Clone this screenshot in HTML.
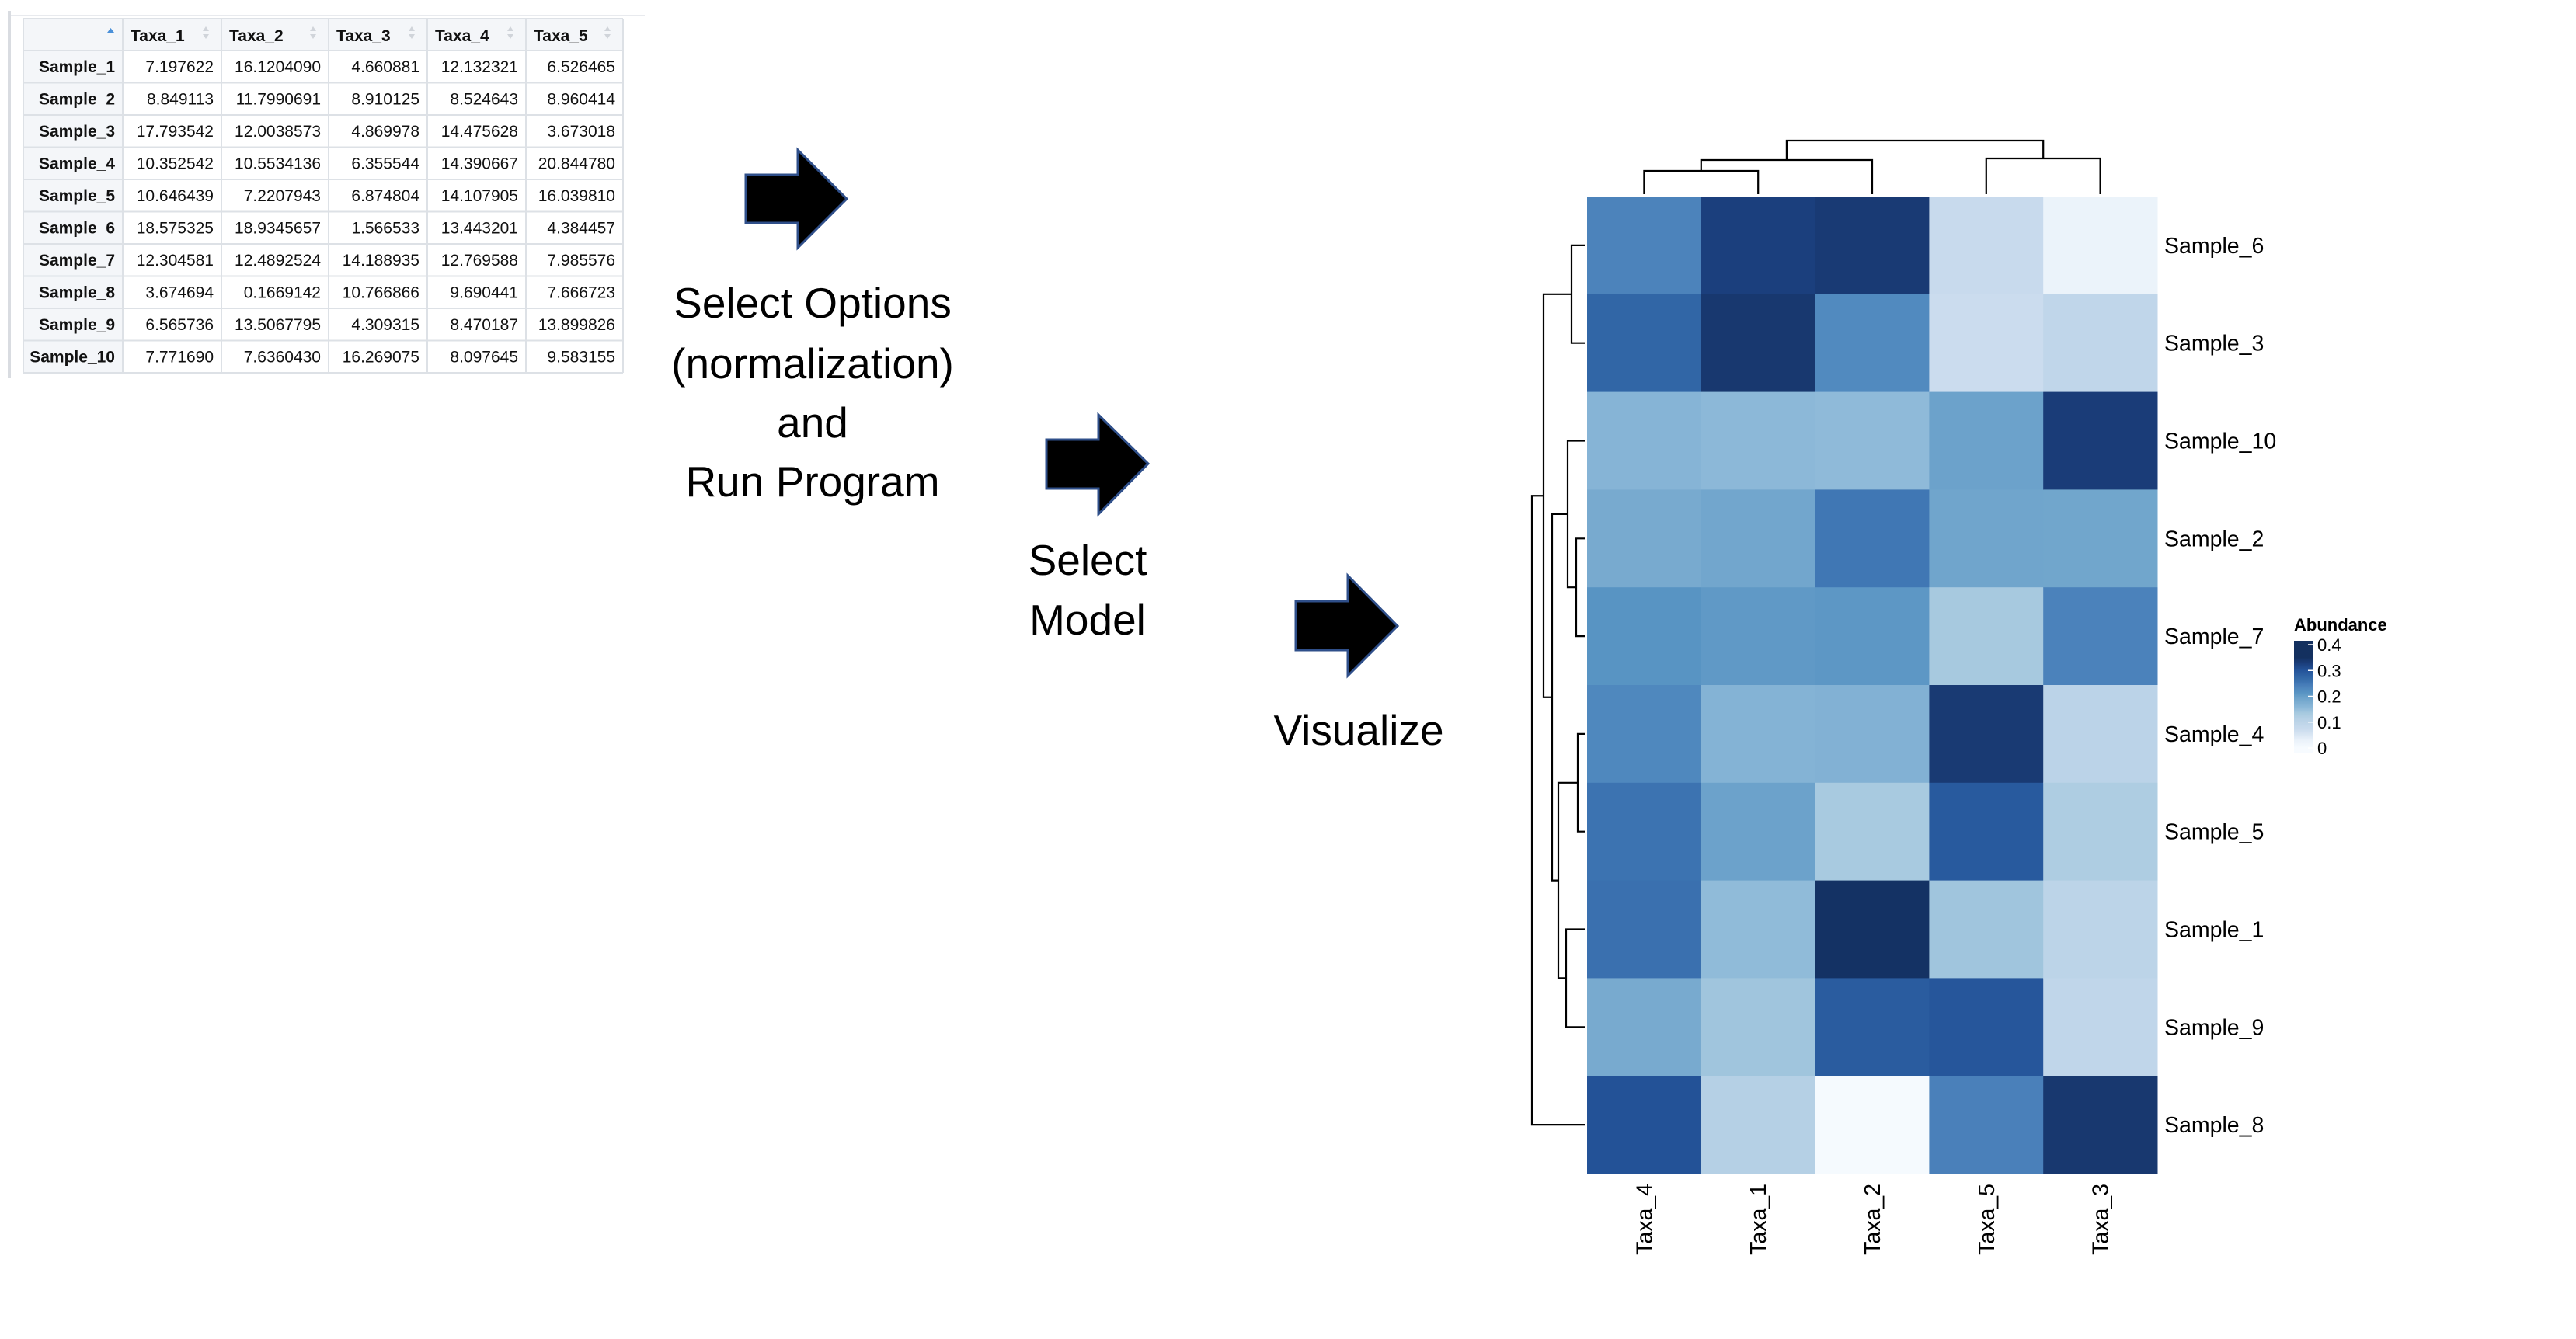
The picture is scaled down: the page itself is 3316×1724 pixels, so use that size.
<!DOCTYPE html>
<html><head><meta charset="utf-8"><style>
html,body{margin:0;padding:0;background:#fff;}
#root{position:relative;width:3316px;height:1724px;overflow:hidden;font-family:"Liberation Sans",sans-serif;}
svg{position:absolute;left:0;top:0;}
</style></head><body>
<div id="root">
<svg id="main" width="3316" height="1724" viewBox="0 0 3316 1724">
  <g id="table"></g>
  <g><polygon points="960,225 1027,225 1027,193 1090,256 1027,319 1027,287 960,287" fill="#000" stroke="#2f4f8a" stroke-width="3"/></g>
  <g><polygon points="1347,566 1414,566 1414,534 1478,597 1414,662 1414,629 1347,629" fill="#000" stroke="#2f4f8a" stroke-width="3"/></g>
  <g><polygon points="1668,774 1735,774 1735,741 1799,806 1735,870 1735,837 1668,837" fill="#000" stroke="#2f4f8a" stroke-width="3"/></g>
  <g font-size="55" fill="#000" text-anchor="middle">
    <text x="1046" y="409">Select Options</text>
    <text x="1046" y="487">(normalization)</text>
    <text x="1046" y="563">and</text>
    <text x="1046" y="639">Run Program</text>
  </g>
  <g font-size="55" fill="#000" text-anchor="middle">
    <text x="1400" y="740">Select</text>
    <text x="1400" y="817">Model</text>
  </g>
  <text x="1749" y="959" font-size="55" text-anchor="middle">Visualize</text>
  <g id="heatmap"></g>
</svg>
</div>
<script>
// ---- table data ----
var tableCols = ["Taxa_1","Taxa_2","Taxa_3","Taxa_4","Taxa_5"];
var tableRows = ["Sample_1","Sample_2","Sample_3","Sample_4","Sample_5","Sample_6","Sample_7","Sample_8","Sample_9","Sample_10"];
var tableTaxa1 = ["7.197622","8.849113","17.793542","10.352542","10.646439","18.575325","12.304581","3.674694","6.565736","7.771690"];
var tableTaxa2 = ["16.1204090","11.7990691","12.0038573","10.5534136","7.2207943","18.9345657","12.4892524","0.1669142","13.5067795","7.6360430"];
var tableTaxa3 = ["4.660881","8.910125","4.869978","6.355544","6.874804","1.566533","14.188935","10.766866","4.309315","16.269075"];
var tableTaxa4 = ["12.132321","8.524643","14.475628","14.390667","14.107905","13.443201","12.769588","9.690441","8.470187","8.097645"];
var tableTaxa5 = ["6.526465","8.960414","3.673018","20.844780","16.039810","4.384457","7.985576","7.666723","13.899826","9.583155"];

// ---- heatmap data (display order) ----
var hmRows = ["Sample_6","Sample_3","Sample_10","Sample_2","Sample_7","Sample_4","Sample_5","Sample_1","Sample_9","Sample_8"];
var hmCols = ["Taxa_4","Taxa_1","Taxa_2","Taxa_5","Taxa_3"];
var valTaxa4 = [0.236,0.274,0.164,0.181,0.214,0.230,0.257,0.260,0.181,0.303];
var valTaxa1 = [0.326,0.337,0.157,0.188,0.206,0.166,0.194,0.154,0.140,0.115];
var valTaxa2 = [0.333,0.227,0.155,0.251,0.209,0.169,0.132,0.346,0.289,0.005];
var valTaxa5 = [0.077,0.070,0.194,0.190,0.134,0.334,0.292,0.140,0.297,0.240];
var valTaxa3 = [0.028,0.092,0.330,0.189,0.238,0.102,0.125,0.100,0.092,0.337];
var legendTicks = [0,0.1,0.2,0.3,0.4];
var legendTickLabels = ["0","0.1","0.2","0.3","0.4"];

var NS="http://www.w3.org/2000/svg";
function mk(tag,attrs,parent){var e=document.createElementNS(NS,tag);for(var k in attrs)e.setAttribute(k,attrs[k]);parent.appendChild(e);return e;}

// ---- table ----
(function(){
  var g=document.getElementById('table');
  var colX=[30,158,285,423,550,677,802];
  var top=24, hh=41, rh=41.5;
  var bottom=top+hh+rh*10;
  mk('line',{x1:12,y1:14,x2:12,y2:487,stroke:'#d9dce1','stroke-width':4},g);
  mk('line',{x1:14,y1:20,x2:830,y2:20,stroke:'#e8eaee','stroke-width':2},g);
  mk('rect',{x:colX[0],y:top,width:colX[6]-colX[0],height:hh,fill:'#f4f6f9'},g);
  mk('rect',{x:colX[0],y:top,width:colX[1]-colX[0],height:bottom-top,fill:'#f4f6f9'},g);
  for(var i=0;i<=11;i++){var y=(i==0?top:top+hh+rh*(i-1));mk('line',{x1:colX[0],y1:y,x2:colX[6],y2:y,stroke:'#dde1e6','stroke-width':2},g);}
  for(var c=0;c<colX.length;c++){mk('line',{x1:colX[c],y1:top,x2:colX[c],y2:bottom,stroke:'#dde1e6','stroke-width':2},g);}
  var up=mk('polygon',{points:'138,42 147,42 142.5,36',fill:'#4a90d9'},g);
  
  
  var cols=[tableTaxa1,tableTaxa2,tableTaxa3,tableTaxa4,tableTaxa5];
  for(var c=0;c<5;c++){
    var h=mk('text',{x:colX[c+1]+10,y:top+29,'font-size':21,'font-weight':'bold',fill:'#111'},g);
    h.textContent=tableCols[c];
    
    
    var ax=colX[c+2]-20;
    mk('polygon',{points:(ax-4)+',40 '+(ax+4)+',40 '+ax+',34',fill:'#d0d4da'},g);
    mk('polygon',{points:(ax-4)+',44 '+(ax+4)+',44 '+ax+',50',fill:'#d0d4da'},g);
  }
  for(var r=0;r<10;r++){
    var cy=top+hh+rh*r+rh/2+7;
    var t=mk('text',{x:colX[1]-10,y:cy,'font-size':21,'font-weight':'bold','text-anchor':'end',fill:'#111'},g);
    t.textContent=tableRows[r];
    
    
    for(var c=0;c<5;c++){
      var v=mk('text',{x:colX[c+2]-10,y:cy,'font-size':21,'text-anchor':'end',fill:'#111'},g);
      v.textContent=cols[c][r];
      
      
    }
  }
})();

// ---- heatmap ----
var stops=[[0,'#f7fbff'],[0.03,'#eaf2fa'],[0.07,'#cbdcee'],[0.115,'#b5d0e5'],[0.135,'#a6c9df'],[0.16,'#89b6d7'],[0.19,'#70a5cc'],[0.215,'#5793c3'],[0.24,'#4a80ba'],[0.255,'#3d74b2'],[0.27,'#3369a8'],[0.3,'#24549a'],[0.33,'#1a3c78'],[0.35,'#13305f']];
function hex(c){return [parseInt(c.substr(1,2),16),parseInt(c.substr(3,2),16),parseInt(c.substr(5,2),16)];}
function color(v){
  if(v<=stops[0][0])return stops[0][1];
  for(var i=1;i<stops.length;i++){if(v<=stops[i][0]){var a=hex(stops[i-1][1]),b=hex(stops[i][1]);var t=(v-stops[i-1][0])/(stops[i][0]-stops[i-1][0]);return 'rgb('+[0,1,2].map(function(k){return Math.round(a[k]+(b[k]-a[k])*t);}).join(',')+')';}}
  return stops[stops.length-1][1];
}
(function(){
  var g=document.getElementById('heatmap');
  var X0=2043,X1=2777,Y0=253,Y1=1511;
  var cw=(X1-X0)/hmCols.length, rh=(Y1-Y0)/hmRows.length;
  function xc(j){return X0+cw*(j+0.5);}
  function yc(i){return Y0+rh*(i+0.5);}
  var series=[valTaxa4,valTaxa1,valTaxa2,valTaxa5,valTaxa3];
  for(var j=0;j<hmCols.length;j++){
    for(var i=0;i<hmRows.length;i++){
      var r=mk('rect',{x:X0+cw*j,y:Y0+rh*i,width:cw+0.5,height:rh+0.5,fill:color(series[j][i])},g);
      
      
    }
  }
  for(var i=0;i<hmRows.length;i++){
    var t=mk('text',{x:2786,y:yc(i)+10,'font-size':28.5,fill:'#000'},g);
    t.textContent=hmRows[i];
    
    
  }
  for(var j=0;j<hmCols.length;j++){
    var t=mk('text',{x:0,y:0,'font-size':28.5,fill:'#000','text-anchor':'end',transform:'translate('+(xc(j)+10)+',1524) rotate(-90)'},g);
    t.textContent=hmCols[j];
    
    
  }
  // column dendrogram
  var cd=mk('g',{stroke:'#000','stroke-width':2.2,fill:'none'},g);
  
  
  function u(x1,x2,yTop,yA,yB){mk('path',{d:'M'+x1+','+yA+' V'+yTop+' H'+x2+' V'+yB},cd);}
  var leaf=250;
  u(xc(0),xc(1),220,leaf,leaf);
  u((xc(0)+xc(1))/2,xc(2),206,220,leaf);
  u(xc(3),xc(4),204,leaf,leaf);
  u(((xc(0)+xc(1))/2+xc(2))/2,(xc(3)+xc(4))/2,181,206,204);
  // row dendrogram
  var rd=mk('g',{stroke:'#000','stroke-width':2.2,fill:'none'},g);
  
  
  function v(x,yA,yB,xA,xB){mk('path',{d:'M'+xA+','+yA+' H'+x+' V'+yB+' H'+xB},rd);}
  var L=2040;
  v(2023,yc(0),yc(1),L,L);
  v(2029,yc(3),yc(4),L,L);
  var m27=(yc(3)+yc(4))/2;
  v(2018,yc(2),m27,L,2029);
  var m1027=(yc(2)+m27)/2;
  v(2031,yc(5),yc(6),L,L);
  v(2016,yc(7),yc(8),L,L);
  var m45=(yc(5)+yc(6))/2, m19=(yc(7)+yc(8))/2;
  v(2006,m45,m19,2031,2016);
  var m4519=(m45+m19)/2;
  v(1998,m1027,m4519,2018,2006);
  var mB=(m1027+m4519)/2, m63=(yc(0)+yc(1))/2;
  v(1987,m63,mB,2023,1998);
  var mA=(m63+mB)/2;
  v(1972,mA,yc(9),1987,L);
  // legend
  var lg=mk('g',{},g);
  
  
  var defs=mk('defs',{},lg);
  var grad=mk('linearGradient',{id:'lgrad',x1:0,y1:1,x2:0,y2:0},defs);
  var LB=963, per=332.5;
  var barTop=825, barBot=970;
  for(var s=0;s<stops.length;s++){
    var yy=LB-stops[s][0]*per;
    mk('stop',{offset:((barBot-yy)/(barBot-barTop)).toFixed(3),'stop-color':stops[s][1]},grad);
  }
  mk('rect',{x:2953,y:barTop,width:24,height:barBot-barTop,fill:'url(#lgrad)'},lg);
  var title=mk('text',{x:2953,y:812,'font-size':22,'font-weight':'bold',fill:'#000'},lg);
  title.textContent='Abundance';
  
  
  for(var k=0;k<legendTicks.length;k++){
    var ty=LB-legendTicks[k]*per;
    mk('line',{x1:2971,y1:ty,x2:2977,y2:ty,stroke:'#fff','stroke-width':1.5},lg);
    var tl=mk('text',{x:2983,y:ty+8,'font-size':22,fill:'#000'},lg);
    tl.textContent=legendTickLabels[k];
    
    
  }
})();
</script>
</body></html>
